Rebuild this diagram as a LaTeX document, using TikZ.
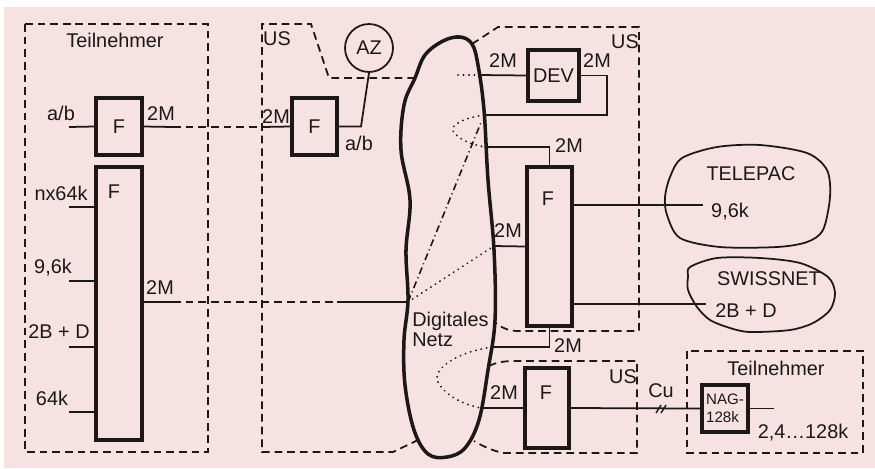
\documentclass[tikz,border=0pt]{standalone}
\usepackage{fontspec}
\setmainfont{Liberation Sans}
\usepackage{tikz}
\definecolor{paper}{RGB}{246,225,227}
\definecolor{ink}{RGB}{28,24,24}
\tikzset{
  blk/.style={draw=ink,line width=2pt,inner sep=0pt,text=ink,font=\fontsize{11.3}{13}\selectfont},
  wire/.style={draw=ink,line width=1pt},
  zone/.style={draw=ink,line width=1pt,dash pattern=on 4.4pt off 2.8pt},
  dots/.style={draw=ink,line width=1.1pt,dash pattern=on 0.1pt off 3pt,line cap=round},
  dashdot/.style={draw=ink,line width=0.9pt,dash pattern=on 4pt off 2pt on 0.6pt off 2pt},
  txt/.style={text=ink,inner sep=0pt,font=\fontsize{11.3}{13}\selectfont},
}

\begin{document}
\begin{tikzpicture}[x=0.02cm,y=-0.02cm]
 \useasboundingbox (0,0) rectangle (875,468);
 \fill[white] (0,0) rectangle (875,468);
 \fill[paper] (4,7) rectangle (875,468);

 % digital network
 \draw[ink,line width=2pt] plot[smooth cycle,tension=0.6] coordinates
  {(415,78) (425,55) (443,41) (460,37) (472,44) (478,65) (484,110) (488,180)
   (494,250) (495,320) (488,370) (479,420) (465,448) (447,457) (428,454)
   (414,430) (405,385) (404,340) (408,300) (406,250) (410,200) (401,150) (404,105)};
 \node[txt,align=left,anchor=west] (dn) at (412,329) {Digitales\\[-1.5pt]Netz};

 % blocks
 \node[blk,minimum width=0.92cm,minimum height=1.14cm] (fA) at (119,126.5) {F};
 \node[blk,minimum width=0.92cm,minimum height=5.46cm] (fB) at (119,303.5) {};
 \node[txt] (fBt) at (114,192) {F};
 \node[blk,minimum width=0.9cm,minimum height=1.14cm] (fC) at (314.5,126.5) {F};
 \node[circle,draw=ink,line width=1pt,minimum size=0.96cm,txt] (az) at (369,48) {AZ};
 \node[blk,minimum width=1.02cm,minimum height=1.02cm] (dev) at (553.5,75.5) {DEV};
 \node[blk,minimum width=0.9cm,minimum height=3.18cm] (fD) at (549.5,246.5) {};
 \node[txt] (fDt) at (548,199) {F};
 \node[blk,minimum width=0.88cm,minimum height=1.6cm] (fE) at (547,408) {};
 \node[txt] (fEt) at (546,393) {F};
 \node[blk,minimum width=0.92cm,minimum height=0.94cm,align=left,
       font=\fontsize{8.6}{10.5}\selectfont] (nag) at (725,408.5) {NAG-\\128k};

 % subscriber side
 \draw[zone] (25,24) rectangle (208,452);
 \node[txt] (tn1) at (115,40) {Teilnehmer};
 \coordinate (ab1) at (69,127);
 \draw[wire] (ab1) -- (fA.west);
 \foreach \yy/\nm in {207/a,281/b,347/c,412/d}
  {\coordinate (in\nm) at (69,\yy);
   \draw[wire] (in\nm) -- (in\nm -| fB.west);}
 \node[txt] at (61,113) {a/b};
 \node[txt] at (161,114) {2M};
 \node[txt] at (61,193) {nx64k};
 \node[txt] at (53,268) {9,6k};
 \node[txt] at (59,332) {2B + D};
 \node[txt] at (52,398) {64k};
 \node[txt] at (160,288) {2M};

 \coordinate (p1) at (173,127);
 \coordinate (p2) at (262,127);
 \draw[wire] (fA.east) -- (p1);
 \draw[zone] (p1) -- (p2);
 \draw[wire] (p2) -- (fC.west);
 \coordinate (q1) at (173,302);
 \coordinate (q2) at (337,302);
 \coordinate (nL) at (408,302);
 \draw[wire] (fB.east |- q1) -- (q1);
 \draw[zone] (q1) -- (q2);
 \draw[wire] (q2) -- (nL);

 % US left
 \draw[zone] (415,78) -- (329,78) -- (311,24) -- (262,24) -- (262,452) -- (393,452) -- (418,440);
 \node[txt] at (277,39) {US};
 \node[txt] at (276,117) {2M};
 \coordinate (k1) at (361,126.5);
 \draw[wire] (fC.east) -- (k1) -- (az.south);
 \node[txt] at (359,143) {a/b};

 % paths through the network
 \coordinate (r75) at (480,75);
 \coordinate (r115) at (484,115);
 \coordinate (r147) at (486,147);
 \coordinate (r246) at (494,246);
 \coordinate (r347) at (492,347);
 \coordinate (r408) at (481,408);
 \coordinate (dd) at (482,120);
 \draw[dots] (458,75) -- (r75);
 \draw[dots] (r115) .. controls (462,118) and (450,126) .. (453,131)
   .. controls (457,138) and (470,145) .. (r147);
 \draw[dots] (nL) -- (r246);
 \draw[dashdot] (nL) -- (dd);
 \draw[dots] (r347) .. controls (458,352) and (432,368) .. (438,382)
   .. controls (445,396) and (465,405) .. (r408);

 % US upper right
 \draw[zone] (472,44) -- (498,27) -- (639,27) -- (639,331) -- (518,331)
   .. controls (508,331) and (500,327) .. (495,322);
 \node[txt] at (625,42) {US};
 \draw[wire] (r75) -- (dev.west);
 \coordinate (d2) at (607,115);
 \draw[wire] (dev.east) -| (d2) -- (r115);
 \node[txt] at (503,61) {2M};
 \node[txt] at (597,61) {2M};
 \draw[wire] (r147) -| (fD.north);
 \node[txt] at (569,146) {2M};
 \draw[wire] (r246) -- (fD.west);
 \node[txt] at (508,231) {2M};
 \draw[wire] (fD.south) |- (r347);
 \node[txt] at (568,346) {2M};

 % public networks
 \draw[ink,line width=1pt] plot[smooth cycle] coordinates
  {(682,158) (717,147) (760,145) (807,153) (827,170) (830,197) (823,230) (807,242)
   (777,247) (720,247) (680,238) (667,215) (665,197) (670,177)};
 \node[txt] (tele) at (751,174) {TELEPAC};
 \coordinate (tp) at (703,205);
 \draw[wire] (fD.east |- tp) -- (tp);
 \node[txt] at (730,212) {9,6k};
 \draw[ink,line width=1pt] plot[smooth cycle] coordinates
  {(690,267) (717,258) (760,258) (800,263) (828,277) (835,293) (830,310) (813,323)
   (790,330) (750,332) (730,328) (710,320) (697,307) (688,290) (688,277)};
 \node[txt] (swiss) at (769,279) {SWISSNET};
 \coordinate (sw) at (706,304);
 \draw[wire] (fD.east |- sw) -- (sw);
 \node[txt] at (746,311) {2B + D};

 % US lower
 \draw[zone] (489,366) .. controls (497,362) and (505,361) .. (515,361) -- (637,361)
   -- (637,453) -- (503,453) .. controls (494,451) and (484,447) .. (474,441);
 \node[txt] at (623,377) {US};
 \draw[wire] (r408) -- (fE.west);
 \node[txt] at (504,393) {2M};
 \draw[wire] (fE.east) -- (nag.west);
 \draw[ink,line width=0.8pt] (656,413) -- (661,405) (661,413) -- (666,405);
 \node[txt] at (661,391) {Cu};

 % subscriber right
 \draw[zone] (687,351) rectangle (863,453);
 \node[txt] (tn2) at (776,368) {Teilnehmer};
 \coordinate (out) at (774,408.5);
 \draw[wire] (nag.east) -- (out);
 \node[txt] at (803,433) {2,4\ldots128k};
\end{tikzpicture}
\end{document}
